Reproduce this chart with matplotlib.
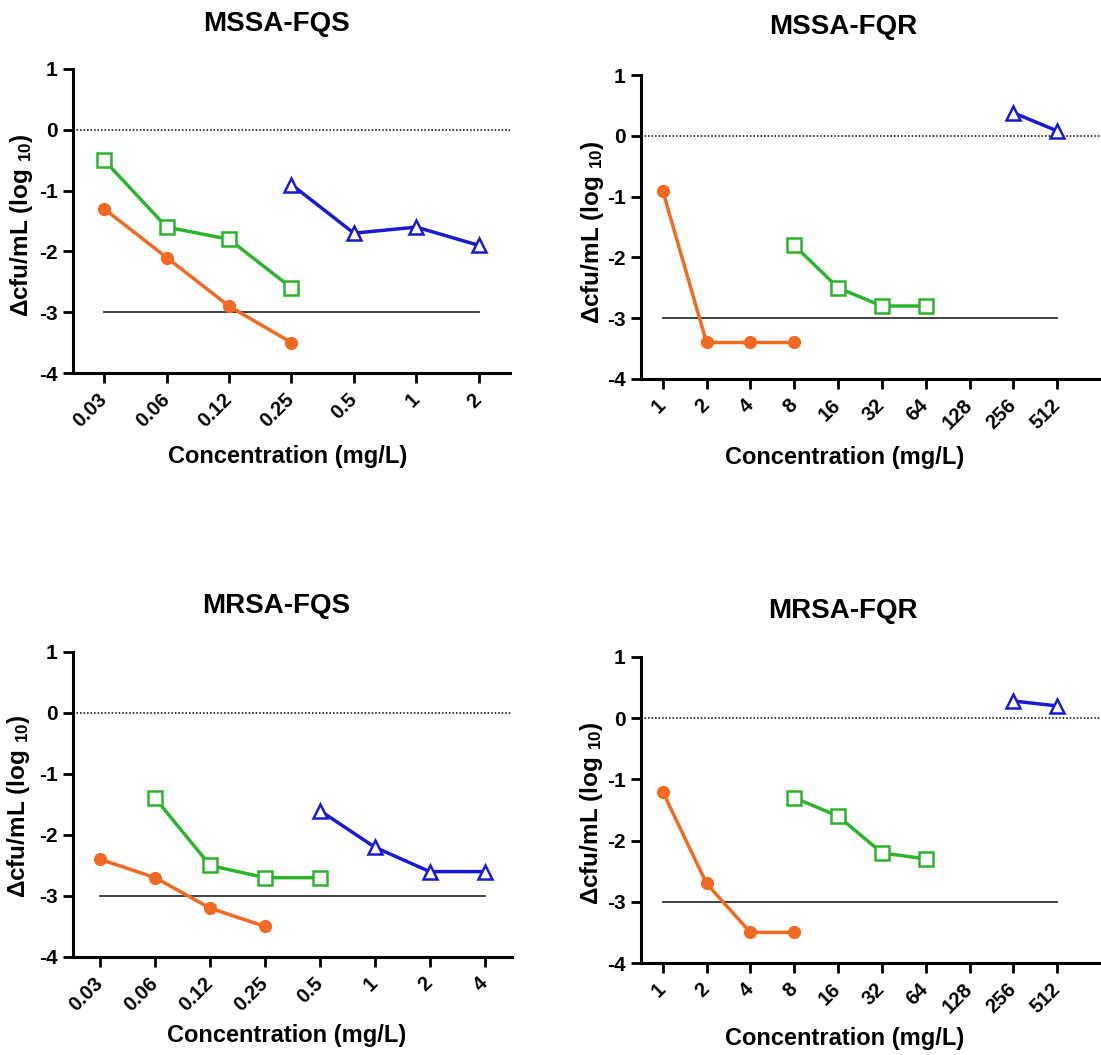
import matplotlib
matplotlib.use('Agg')
import matplotlib.pyplot as plt

plt.rcParams['font.family'] = ['Liberation Sans', 'DejaVu Sans']
plt.rcParams['font.weight'] = 'bold'
plt.rcParams['axes.unicode_minus'] = False
plt.rcParams['mathtext.default'] = 'regular'

ORANGE = '#f26a21'
GREEN = '#2cb52c'
BLUE = '#1a1ad6'
THRESHOLD = -3

# x categories (mg/L)
fqs_conc_mssa = ['0.03', '0.06', '0.12', '0.25', '0.5', '1', '2']
fqs_conc_mrsa = ['0.03', '0.06', '0.12', '0.25', '0.5', '1', '2', '4']
fqr_conc = ['1', '2', '4', '8', '16', '32', '64', '128', '256', '512']

# MSSA-FQS
mssa_fqs_orange_x = ['0.03', '0.06', '0.12', '0.25']
mssa_fqs_orange_y = [-1.3, -2.1, -2.9, -3.5]
mssa_fqs_green_x = ['0.03', '0.06', '0.12', '0.25']
mssa_fqs_green_y = [-0.5, -1.6, -1.8, -2.6]
mssa_fqs_blue_x = ['0.25', '0.5', '1', '2']
mssa_fqs_blue_y = [-0.9, -1.7, -1.6, -1.9]

# MSSA-FQR
mssa_fqr_orange_x = ['1', '2', '4', '8']
mssa_fqr_orange_y = [-0.9, -3.4, -3.4, -3.4]
mssa_fqr_green_x = ['8', '16', '32', '64']
mssa_fqr_green_y = [-1.8, -2.5, -2.8, -2.8]
mssa_fqr_blue_x = ['256', '512']
mssa_fqr_blue_y = [0.38, 0.08]

# MRSA-FQS
mrsa_fqs_orange_x = ['0.03', '0.06', '0.12', '0.25']
mrsa_fqs_orange_y = [-2.4, -2.7, -3.2, -3.5]
mrsa_fqs_green_x = ['0.06', '0.12', '0.25', '0.5']
mrsa_fqs_green_y = [-1.4, -2.5, -2.7, -2.7]
mrsa_fqs_blue_x = ['0.5', '1', '2', '4']
mrsa_fqs_blue_y = [-1.6, -2.2, -2.6, -2.6]

# MRSA-FQR
mrsa_fqr_orange_x = ['1', '2', '4', '8']
mrsa_fqr_orange_y = [-1.2, -2.7, -3.5, -3.5]
mrsa_fqr_green_x = ['8', '16', '32', '64']
mrsa_fqr_green_y = [-1.3, -1.6, -2.2, -2.3]
mrsa_fqr_blue_x = ['256', '512']
mrsa_fqr_blue_y = [0.28, 0.2]

STYLES = {
    'orange': dict(color=ORANGE, marker='o', ms=8.5, mfc=ORANGE, mec=ORANGE),
    'green': dict(color=GREEN, marker='s', ms=9.5, mfc='white', mec=GREEN, mew=1.8),
    'blue': dict(color=BLUE, marker='^', ms=10, mfc='white', mec=BLUE, mew=1.8),
}


def draw_panel(fig, rect, title, title_xy, cats, series, xlim, xlab_xy, ylab_xy):
    ax = fig.add_axes(rect)
    ax.axhline(0, color='black', lw=1.1, ls=(0, (1, 1.3)), zorder=1)
    ax.plot([0, len(cats) - 1], [THRESHOLD, THRESHOLD], color='#333333', lw=1.3, zorder=1)
    for xs, ys, key in series:
        idx = [cats.index(c) for c in xs]
        ax.plot(idx, ys, lw=2.5, clip_on=False, zorder=3, **STYLES[key])

    ax.set_xlim(*xlim)
    ax.set_ylim(-4, 1)
    ax.set_yticks(range(-4, 2))
    ax.set_xticks(range(len(cats)))
    ax.set_xticklabels(cats, rotation=45, ha='right', va='center', rotation_mode='anchor')
    ax.tick_params(axis='both', direction='out', length=7, width=2)
    ax.tick_params(axis='x', pad=10, labelsize=14.5)
    ax.tick_params(axis='y', pad=4, labelsize=15)
    for s in ['top', 'right']:
        ax.spines[s].set_visible(False)
    for s in ['left', 'bottom']:
        ax.spines[s].set_linewidth(2.2)

    ax.set_xlabel('Concentration (mg/L)', fontsize=17, fontweight='bold')
    ax.xaxis.set_label_coords(*xlab_xy)
    ax.xaxis.label.set_va('center')
    ax.set_ylabel('Δcfu/mL (log $_{10}$)', fontsize=17.5, fontweight='bold')
    ax.yaxis.set_label_coords(*ylab_xy)
    ax.yaxis.label.set_va('center')

    fig.text(title_xy[0], title_xy[1], title, fontsize=20, fontweight='bold',
             ha='center', va='center')
    return ax


fig = plt.figure(figsize=(11.01, 10.55), dpi=100)

draw_panel(fig, [0.0663, 0.6464, 0.3969, 0.2882], 'MSSA-FQS', (0.2507, 0.977),
           fqs_conc_mssa,
           [(mssa_fqs_orange_x, mssa_fqs_orange_y, 'orange'),
            (mssa_fqs_green_x, mssa_fqs_green_y, 'green'),
            (mssa_fqs_blue_x, mssa_fqs_blue_y, 'blue')],
           (-0.5, 6.5), (0.492, -0.276), (-0.117, 0.487))

draw_panel(fig, [0.582, 0.6408, 0.418, 0.2881], 'MSSA-FQR', (0.7657, 0.974),
           fqr_conc,
           [(mssa_fqr_orange_x, mssa_fqr_orange_y, 'orange'),
            (mssa_fqr_green_x, mssa_fqr_green_y, 'green'),
            (mssa_fqr_blue_x, mssa_fqr_blue_y, 'blue')],
           (-0.5, 10.0), (0.443, -0.26), (-0.104, 0.484))

draw_panel(fig, [0.0663, 0.0929, 0.3987, 0.2891], 'MRSA-FQS', (0.2507, 0.4256),
           fqs_conc_mrsa,
           [(mrsa_fqs_orange_x, mrsa_fqs_orange_y, 'orange'),
            (mrsa_fqs_green_x, mrsa_fqs_green_y, 'green'),
            (mrsa_fqs_blue_x, mrsa_fqs_blue_y, 'blue')],
           (-0.5, 7.5), (0.487, -0.259), (-0.125, 0.495))

draw_panel(fig, [0.582, 0.0872, 0.418, 0.2901], 'MRSA-FQR', (0.7657, 0.4209),
           fqr_conc,
           [(mrsa_fqr_orange_x, mrsa_fqr_orange_y, 'orange'),
            (mrsa_fqr_green_x, mrsa_fqr_green_y, 'green'),
            (mrsa_fqr_blue_x, mrsa_fqr_blue_y, 'blue')],
           (-0.5, 10.0), (0.443, -0.248), (-0.107, 0.49))

fig.savefig('out.png', dpi=100, facecolor='white')
